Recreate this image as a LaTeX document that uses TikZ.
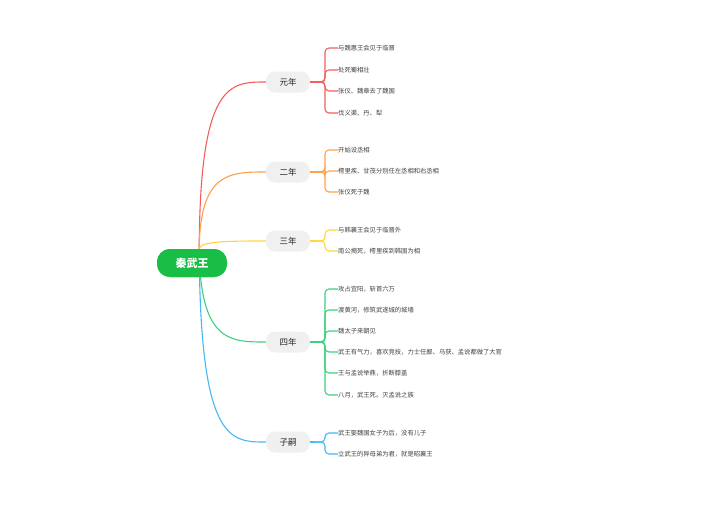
\documentclass[tikz,border=0pt]{standalone}
\usepackage{fontspec}
\setmainfont{Noto Sans CJK SC}
\begin{document}
\begin{tikzpicture}[x=1pt,y=-1pt,
  br/.style={fill=gray!12,rounded corners=9pt,minimum width=44pt,minimum height=21pt,font=\fontsize{8.5}{10}\selectfont,text=black!85},
  leaf/.style={anchor=west,font=\fontsize{6.3}{8}\selectfont,text=black!75,inner sep=0pt},
  ln/.style={line width=1.1pt}]
\useasboundingbox (0,0) rectangle (704,504);
\definecolor{c1}{HTML}{F25E5E}\definecolor{c2}{HTML}{FF9F4A}\definecolor{c3}{HTML}{FFD43B}\definecolor{c4}{HTML}{3ECF80}\definecolor{c5}{HTML}{42B9F5}
\node[fill=green!65!black!90!cyan,fill={rgb,255:red,24;green,190;blue,70},rounded corners=13pt,minimum width=70pt,minimum height=28pt,text=white,font=\fontsize{11}{13}\selectfont\bfseries] (root) at (192,263) {秦武王};
\newcommand{\grp}[5]{%
 % #1 name #2 label #3 y #4 color #5 list of y/text
 \node[br] (#1) at (288,#3) {#2};
 \draw[ln,#4] (root.north east) ++(-28,0) .. controls (200,#3) and (230,#3) .. (#1.west);
 \draw[ln,#4] (#1.east) -- (314,#3);
 \foreach \yy/\tt [count=\i] in {#5}{%
   \node[leaf] (#1l\i) at (338,\yy) {\tt};
   \draw[ln,#4,rounded corners=4pt] (314,#3) -| (325,\yy) -- (#1l\i.west);
 }}
\grp{b1}{元年}{82}{c1}{48/与魏惠王会见于临晋,70/处死蜀相壮,91/张仪、魏章去了魏国,113/伐义渠、丹、犁}
\grp{b2}{二年}{172}{c2}{150/开始设丞相,171/樗里疾、甘茂分别任左丞相和右丞相,192/张仪死于魏}
\grp{b3}{三年}{241}{c3}{230/与韩襄王会见于临晋外,251/南公揭死，樗里疾到韩国为相}
\grp{b4}{四年}{342}{c4}{289/攻占宜阳，斩首六万,310/渡黄河，修筑武遂城的城墙,331/魏太子来朝见,352/武王有气力，喜欢竞技，力士任鄙、乌获、孟说都做了大官,373/王与孟说举鼎，折断膝盖,395/八月，武王死。灭孟说之族}
\grp{b5}{子嗣}{442}{c5}{433/武王娶魏国女子为后，没有儿子,454/立武王的异母弟为君，就是昭襄王}
\node[fill={rgb,255:red,24;green,190;blue,70},rounded corners=13pt,minimum width=70pt,minimum height=28pt,text=white,font=\fontsize{11}{13}\selectfont\bfseries] at (192,263) {秦武王};
\end{tikzpicture}
\end{document}
